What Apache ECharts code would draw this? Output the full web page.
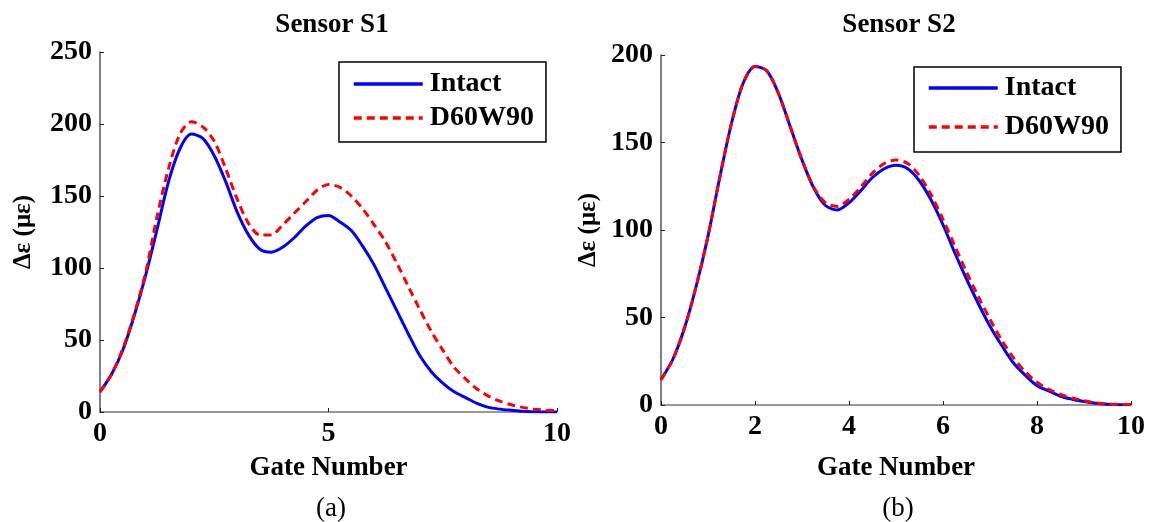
<!DOCTYPE html>
<html>
<head>
<meta charset="utf-8">
<script src="https://cdn.jsdelivr.net/npm/echarts@6/dist/echarts.min.js"></script>
<style>html,body{margin:0;padding:0;background:#fff;}#c{width:1151px;height:522px;}</style>
</head>
<body>
<div id="c"></div>
<script>
var gates = [0,0.25,0.5,0.75,1,1.25,1.5,1.75,2,2.25,2.5,2.75,3,3.25,3.5,3.75,4,4.25,4.5,4.75,5,5.25,5.5,5.75,6,6.25,6.5,6.75,7,7.25,7.5,7.75,8,8.25,8.5,8.75,9,9.25,9.5,9.75,10];
var s1Intact = [14,26,43,67,95,127,160,183,193,190,178,160,139,123,113,111,114.5,121,129,135,136.5,132,126,115,102,86,70,54,39,28,20,14,10,6,3.2,2,1.2,0.5,0.2,0,0];
var s1Damaged = [14,26,44,68,97,136,169,193,201.5,198,188,169,148,131,123,123,130,138,146,154,158,156,150,141,130,118,103,87,71,56,43,31,23,16,11,7.5,5,3.2,2,1.3,1];
var s2Intact = [14.5,26,44,68,96.5,130,161,184,193.5,191,178,159,140,124,114,111.5,115.5,122.5,130,135,137,135,128,117,103,87,72,58,45,34,24,17,11,8,5,3.3,2,1,0.4,0.2,0.2];
var s2Damaged = [14.5,26,44,68,96.5,130,161,184,193.5,191,178,159,140,124.5,115.5,113.5,117.5,124.5,132.5,138,140,138,131,120,106,91,76,62,49,37,27,19,13,9,6,4,2.5,1.2,0.5,0.3,0.3];
var seriesNames = ['Intact','D60W90'];
var titles = ['Sensor S1','Sensor S2'];
var captions = ['(a)','(b)'];
var xName = 'Gate Number';
var yName = 'Δε (με)';

function pairs(xs, ys){ return xs.map(function(x,i){ return [x, ys[i]]; }); }

var serif = '"Liberation Serif","Times New Roman",serif';
var chart = echarts.init(document.getElementById('c'));

function xAxis(gi, interval, gap){
  return {
    gridIndex: gi, type: 'value', min: 0, max: 10, interval: interval,
    name: xName, nameLocation: 'middle', nameGap: gap,
    nameTextStyle: {fontFamily: serif, fontWeight: 'bold', fontSize: 27, color: '#000'},
    axisLine: {onZero: false, lineStyle: {color: '#777', width: 1.5}},
    axisTick: {inside: true, length: 4, lineStyle: {color: '#222'}},
    axisLabel: {fontFamily: serif, fontWeight: 'bold', fontSize: 28, color: '#000', margin: 8},
    splitLine: {show: false}
  };
}
function yAxis(gi, max, gap){
  return {
    gridIndex: gi, type: 'value', min: 0, max: max, interval: 50,
    name: yName, nameLocation: 'middle', nameGap: gap, nameRotate: 90,
    nameTextStyle: {fontFamily: serif, fontWeight: 'bold', fontSize: 25, color: '#000'},
    axisLine: {show: true, onZero: false, lineStyle: {color: '#555', width: 1.5}},
    axisTick: {show: true, inside: true, length: 4, lineStyle: {color: '#222'}},
    axisLabel: {fontFamily: serif, fontWeight: 'bold', fontSize: 28, color: '#000', margin: 8},
    splitLine: {show: false}
  };
}
function line(name, gi, data, dashed){
  return {
    name: name, type: 'line', xAxisIndex: gi, yAxisIndex: gi,
    data: data, smooth: 0.3, symbol: 'none', showSymbol: false,
    lineStyle: {color: dashed ? '#ff0000' : '#0000ff', width: 3, type: dashed ? [8,5] : 'solid'},
    itemStyle: {color: dashed ? '#ff0000' : '#0000ff'},
    z: dashed ? 3 : 2
  };
}
function legend(gi, left, top, pad, gap){
  return {
    orient: 'vertical', left: left, top: top, padding: pad, itemGap: gap,
    itemWidth: 69, itemHeight: 14, data: seriesNames,
    borderColor: '#000', borderWidth: 1.5, backgroundColor: '#fff',
    itemStyle: {opacity: 0},
    lineStyle: {width: 3.5},
    textStyle: {fontFamily: serif, fontWeight: 'bold', fontSize: 28, color: '#000', lineHeight: 28, padding: [0,0,0,2]},
    selectedMode: false
  };
}

chart.setOption({
  animation: false,
  backgroundColor: '#fff',
  title: [
    {text: titles[0], left: 327, top: 7, textAlign: 'center', textStyle: {fontFamily: serif, fontWeight: 'bold', fontSize: 27, color: '#000'}},
    {text: titles[1], left: 894, top: 7, textAlign: 'center', textStyle: {fontFamily: serif, fontWeight: 'bold', fontSize: 27, color: '#000'}},
    {text: captions[0], left: 326, top: 490, textAlign: 'center', textStyle: {fontFamily: serif, fontWeight: 'normal', fontSize: 27, color: '#000'}},
    {text: captions[1], left: 893, top: 490, textAlign: 'center', textStyle: {fontFamily: serif, fontWeight: 'normal', fontSize: 27, color: '#000'}}
  ],
  grid: [
    {left: 100, right: 594, top: 52, bottom: 110, containLabel: false},
    {left: 661, right: 20, top: 55, bottom: 117, containLabel: false}
  ],
  xAxis: [xAxis(0, 5, 43), xAxis(1, 2, 50)],
  yAxis: [yAxis(0, 250, 64), yAxis(1, 200, 60)],
  legend: [legend(0, 339, 62, [8,12,10,13], 6), legend(1, 914, 67, [7,12,11,13], 11)],
  series: [
    line(seriesNames[0], 0, pairs(gates, s1Intact), false),
    line(seriesNames[1], 0, pairs(gates, s1Damaged), true),
    line(seriesNames[0], 1, pairs(gates, s2Intact), false),
    line(seriesNames[1], 1, pairs(gates, s2Damaged), true)
  ]
});
</script>
</body>
</html>
